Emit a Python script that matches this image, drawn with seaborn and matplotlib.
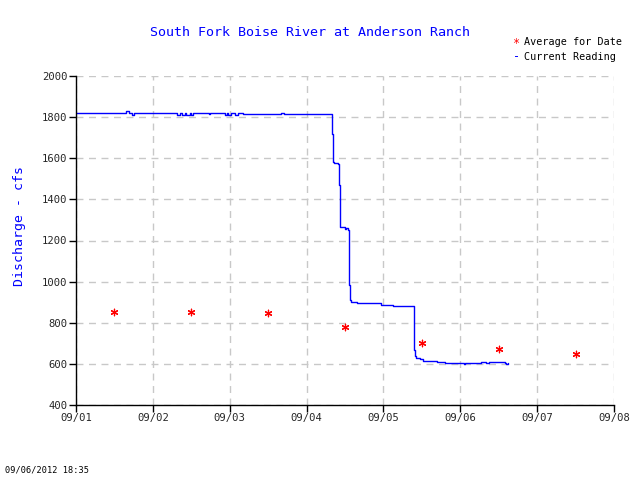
import pandas as pd
import matplotlib.pyplot as plt
import matplotlib.dates as mdates
import seaborn as sns

# --- data ---
# current reading: hours since 09/01 00:00 and discharge (cfs), stepwise
reading_hours = [0, 15.5, 16.5, 17.5, 18, 31.5, 32.5, 33, 34, 34.5, 35.5, 36, 36.5,
                 41.5, 42, 46.5, 47, 47.5, 48.5, 49.5, 50.5, 52, 64, 65,
                 80.0, 80.3, 80.6, 81.9, 82.1, 82.4, 84.0, 84.4, 84.8, 85.3, 85.6, 86.0,
                 87.7, 95.2, 98.9, 105.5, 105.8, 106.3, 107.4, 108.3, 109.4, 112.6,
                 115.2, 121.3, 121.6, 126.6, 128.0, 129.0, 134.0, 134.3, 134.8]
reading_cfs = [1820, 1830, 1820, 1812, 1820, 1812, 1820, 1812, 1820, 1812, 1820, 1812, 1820,
               1814, 1820, 1812, 1820, 1812, 1820, 1812, 1820, 1815, 1822, 1815,
               1720, 1580, 1575, 1570, 1470, 1265, 1255, 1262, 1252, 985, 911, 902,
               898, 886, 881, 667, 638, 630, 622, 615, 612, 607,
               604, 599, 604, 609, 604, 608, 604, 599, 603]

# average for date, plotted at noon of each day
avg_dates = ['2012-09-01 12:00', '2012-09-02 12:00', '2012-09-03 12:00', '2012-09-04 12:00',
             '2012-09-05 12:00', '2012-09-06 12:00', '2012-09-07 12:00']
avg_cfs = [852, 850, 845, 779, 700, 671, 648]

y_ticks = [400, 600, 800, 1000, 1200, 1400, 1600, 1800, 2000]

reading = pd.DataFrame({
    'time': pd.Timestamp('2012-09-01') + pd.to_timedelta(reading_hours, unit='h'),
    'cfs': reading_cfs,
})
average = pd.DataFrame({'time': pd.to_datetime(avg_dates), 'cfs': avg_cfs})

# --- plot ---
sns.set_theme(style='white')
plt.rcParams['font.family'] = ['DejaVu Sans Mono', 'DejaVu Sans']

fig = plt.figure(figsize=(6.4, 4.8), dpi=100)
ax = fig.add_axes([76 / 640, 1 - 405 / 480, 538 / 640, 329 / 480])

sns.lineplot(data=reading, x='time', y='cfs', ax=ax, color='#0000ff', lw=1.0,
             drawstyle='steps-post', estimator=None)
sns.scatterplot(data=average, x='time', y='cfs', ax=ax, color='#ff0000',
                marker=(6, 2, 0), s=22, linewidth=0.9, edgecolor='#ff0000', zorder=3)

ax.set_xlim(pd.Timestamp('2012-09-01'), pd.Timestamp('2012-09-08'))
ax.set_ylim(400, 2000)
ax.set_yticks(y_ticks)
ax.xaxis.set_major_locator(mdates.DayLocator())
ax.xaxis.set_major_formatter(mdates.DateFormatter('%m/%d'))
ax.set_xlabel('')
ax.set_ylabel('')

ax.grid(True, color='#c8c8c8', linestyle=(0, (5, 4)), linewidth=1)
for side in ['top', 'right']:
    ax.spines[side].set_visible(False)
for side in ['left', 'bottom']:
    ax.spines[side].set_color('black')
    ax.spines[side].set_linewidth(1)
ax.tick_params(axis='both', direction='out', length=5, width=1, color='black',
               labelsize=7.6, pad=1, bottom=True, left=True)

# titles and labels
fig.text(310 / 640, 1 - 33 / 480, 'South Fork Boise River at Anderson Ranch',
         color='#0000ff', fontsize=9.6, ha='center', va='center')
fig.text(20 / 640, 1 - 226 / 480, 'Discharge - cfs', color='#0000ff', fontsize=9.5,
         rotation=90, ha='center', va='center')
fig.text(5 / 640, 1 - 470 / 480, '09/06/2012 18:35', color='black', fontsize=6.2,
         ha='left', va='center')

# legend at top right
fig.text(513 / 640, 1 - 43 / 480, '*', color='#ff0000', fontsize=8.5, ha='left', va='center')
fig.text(524 / 640, 1 - 42 / 480, 'Average for Date', color='black', fontsize=7.3,
         ha='left', va='center')
fig.text(513 / 640, 1 - 57 / 480, '-', color='#0000ff', fontsize=8.5, ha='left', va='center')
fig.text(524 / 640, 1 - 57 / 480, 'Current Reading', color='black', fontsize=7.3,
         ha='left', va='center')

fig.savefig('out.png', dpi=100)
